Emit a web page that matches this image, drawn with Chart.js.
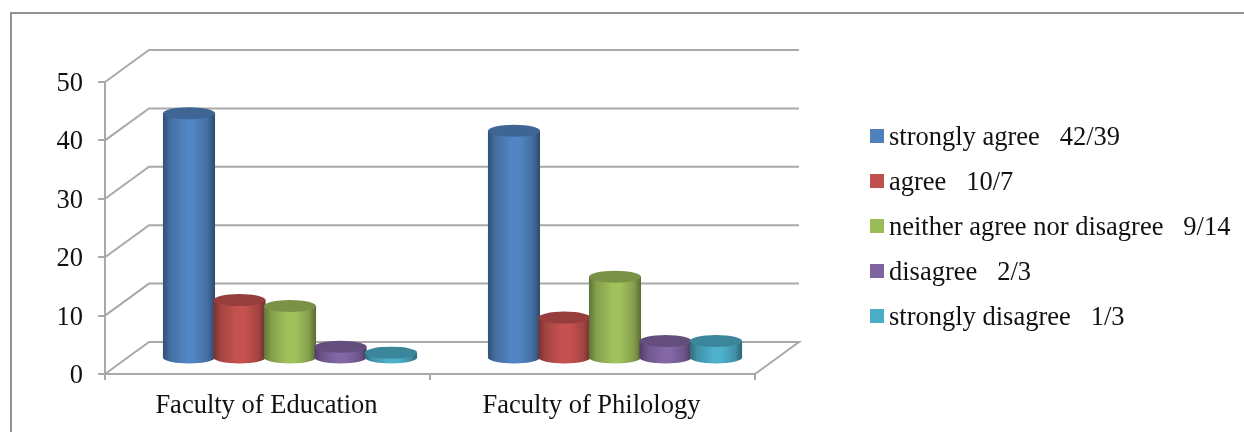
<!DOCTYPE html>
<html>
<head>
<meta charset="utf-8">
<style>
  html, body { margin: 0; padding: 0; background: #fff; overflow: hidden; }
  #stage { position: relative; width: 1244px; height: 432px; font-family: "Liberation Serif", serif; color: #111; }
  #frame { position: absolute; left: 10px; top: 12px; width: 1234px; height: 420px;
           border-left: 2px solid #929292; border-top: 2px solid #929292; box-sizing: border-box; }
  canvas { position: absolute; left: 0; top: 0; }
  #legend { position: absolute; left: 870px; top: 113.5px; font-size: 26.5px; }
  .row { height: 45px; line-height: 45px; position: relative; padding-left: 19px; white-space: pre; }
  .swatch { position: absolute; left: 0; top: 15.5px; width: 14px; height: 14px; }
</style>
</head>
<body>
<div id="stage">
  <div id="frame"></div>
  <canvas id="chart" width="1244" height="432"></canvas>
  <div id="legend"></div>
</div>
<script src="https://cdn.jsdelivr.net/npm/chart.js@4/dist/chart.umd.min.js"></script>
<script>
const categories = ['Faculty of Education', 'Faculty of Philology'];
const seriesNames = ['strongly agree', 'agree', 'neither agree nor disagree', 'disagree', 'strongly disagree'];
const stronglyAgree = [42, 39];
const agree = [10, 7];
const neither = [9, 14];
const disagree = [2, 3];
const stronglyDisagree = [1, 3];
const seriesValues = [stronglyAgree, agree, neither, disagree, stronglyDisagree];
const seriesColors = ['#4F81BD', '#C0504D', '#9BBB59', '#8064A2', '#4BACC6'];

const GRID = '#a9a9a9';
const DEPTH = { x: 44, y: -32 };        // offset from the front plane to the back wall
const BAR_DEPTH = { x: 22.5, y: -15.5 }; // cylinders stand midway along the floor
const CAP_RY = 6;

function shade(hex, f) {
  const n = parseInt(hex.slice(1), 16);
  const c = [n >> 16, (n >> 8) & 255, n & 255].map(v => Math.min(255, Math.round(v * f)));
  return `rgb(${c[0]},${c[1]},${c[2]})`;
}

// Perspective floor, side wall and back wall, taken from the value scale's ticks.
function drawWalls(chart) {
  const { ctx, chartArea: a, scales: { y } } = chart;
  ctx.save();
  ctx.strokeStyle = GRID;
  ctx.lineWidth = 2;
  y.ticks.forEach(t => {
    const py = y.getPixelForValue(t.value);
    ctx.beginPath();
    ctx.moveTo(a.left, py);
    ctx.lineTo(a.left + DEPTH.x, py + DEPTH.y);
    ctx.lineTo(a.right + DEPTH.x, py + DEPTH.y);
    if (t.value === 0) ctx.lineTo(a.right, py);
    ctx.stroke();
  });
  ctx.restore();
}

function drawCylinder(ctx, bar, color) {
  const rx = bar.width / 2 + 0.8;
  const cx = bar.x + BAR_DEPTH.x;
  const baseY = bar.base + BAR_DEPTH.y;
  const topY = bar.y + BAR_DEPTH.y;
  const g = ctx.createLinearGradient(cx - rx, 0, cx + rx, 0);
  g.addColorStop(0, shade(color, 0.62));
  g.addColorStop(0.14, shade(color, 0.85));
  g.addColorStop(0.45, shade(color, 1.03));
  g.addColorStop(0.6, shade(color, 1.03));
  g.addColorStop(0.86, shade(color, 0.85));
  g.addColorStop(1, shade(color, 0.58));
  ctx.beginPath();
  ctx.ellipse(cx, baseY, rx, CAP_RY, 0, 0, Math.PI);
  ctx.lineTo(cx - rx, topY);
  ctx.lineTo(cx + rx, topY);
  ctx.closePath();
  ctx.fillStyle = g;
  ctx.fill();
  ctx.beginPath();
  ctx.ellipse(cx, topY, rx, CAP_RY, 0, 0, Math.PI * 2);
  ctx.fillStyle = shade(color, 0.78);
  ctx.fill();
}

const cylinderScene = {
  id: 'cylinderScene',
  beforeDatasetsDraw(chart) {
    drawWalls(chart);
    const ctx = chart.ctx;
    ctx.save();
    categories.forEach((_, c) => {
      chart.data.datasets.forEach((ds, i) => {
        drawCylinder(ctx, chart.getDatasetMeta(i).data[c], ds.backgroundColor);
      });
    });
    ctx.restore();
    return false;
  }
};

const FONT = { family: '"Liberation Serif", serif', size: 26.5 };

new Chart(document.getElementById('chart'), {
  type: 'bar',
  plugins: [cylinderScene],
  data: {
    labels: categories,
    datasets: seriesNames.map((name, i) => ({
      label: name,
      data: seriesValues[i],
      backgroundColor: seriesColors[i]
    }))
  },
  options: {
    responsive: false,
    animation: false,
    events: [],
    categoryPercentage: 0.777,
    barPercentage: 1,
    layout: { autoPadding: false, padding: { left: 0, top: 82, right: 489, bottom: 0 } },
    plugins: { legend: { display: false }, tooltip: { enabled: false } },
    scales: {
      x: {
        afterFit: s => { s.height = 58; },
        grid: { drawOnChartArea: false, color: GRID, lineWidth: 2, tickLength: 6 },
        border: { color: GRID, width: 2 },
        ticks: { color: '#111', font: FONT, padding: 10, maxRotation: 0, labelOffset: -1 }
      },
      y: {
        min: 0, max: 50,
        afterFit: s => { s.width = 105; },
        grid: { drawOnChartArea: false, color: GRID, lineWidth: 2, tickLength: 7 },
        border: { color: GRID, width: 2 },
        ticks: { color: '#111', font: FONT, stepSize: 10, padding: 15, labelOffset: 2 }
      }
    }
  }
});

// Legend rows carry each series' two faculty counts after its name.
const legend = document.getElementById('legend');
seriesNames.forEach((name, i) => {
  const row = document.createElement('div');
  row.className = 'row';
  const sw = document.createElement('span');
  sw.className = 'swatch';
  sw.style.background = seriesColors[i];
  row.appendChild(sw);
  row.appendChild(document.createTextNode(`${name}   ${seriesValues[i].join('/')}`));
  legend.appendChild(row);
});
</script>
</body>
</html>
